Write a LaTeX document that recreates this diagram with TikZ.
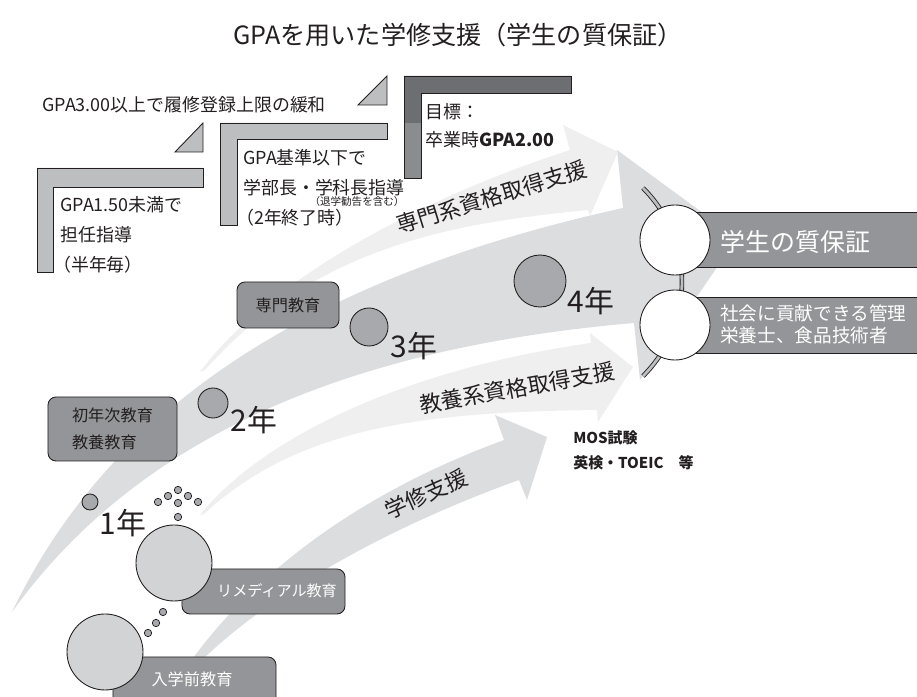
\documentclass[tikz,border=0pt]{standalone}
\usepackage{fontspec}
\setmainfont{Noto Sans CJK JP}
\definecolor{swoosh}{HTML}{DCDDDF}
\definecolor{swooshlight}{HTML}{EFEFF0}
\definecolor{boxgray}{HTML}{939598}
\definecolor{yeargray}{HTML}{A7A9AC}
\definecolor{bigcirclegray}{HTML}{D1D3D4}
\definecolor{stepgray}{HTML}{BCBEC0}
\definecolor{stepdark}{HTML}{6D6E71}
\definecolor{stepmid}{HTML}{8A8C8E}
\definecolor{inkdark}{HTML}{231F20}
\newcommand{\lparen}{\kern-0.4em（}
\tikzset{
  stepbar/.style={fill=stepgray, draw=inkdark, line width=0.5pt},
  steptext/.style={anchor=west, align=left, inner sep=0pt, text=inkdark, font=\fontsize{10.2}{16.5}\selectfont},
  darkbox/.style={rectangle, rounded corners=1.6mm, draw=inkdark, line width=0.5pt, fill=boxgray, inner sep=0pt},
  yearcircle/.style={circle, draw=inkdark, line width=0.5pt, fill=yeargray, inner sep=0pt},
  yearlabel/.style={inner sep=0pt, text=inkdark, font=\fontsize{17}{17}\selectfont},
  bigcircle/.style={circle, draw=inkdark, line width=0.5pt, fill=bigcirclegray, inner sep=0pt, minimum size=15.2mm},
  goalcircle/.style={circle, draw=inkdark, line width=0.5pt, fill=white, inner sep=0pt, minimum size=14mm},
  arrowlabel/.style={inner sep=0pt, text=inkdark, font=\fontsize{12.5}{12.5}\selectfont},
  smalldot/.style={fill=yeargray, draw=inkdark, line width=0.4pt},
}
\begin{document}
\begin{tikzpicture}[x=0.2mm, y=-0.2mm]
    \useasboundingbox (0,0) rectangle (917,697);

    % タイトル
    \node[inner sep=0pt, text=inkdark, font=\fontsize{14.3}{14.3}\selectfont] (title) at (458,35) {GPAを用いた学修支援（学生の質保証）};

    % 大きな矢印（4年間の流れ）
    \fill[swoosh] (12,612) .. controls (90,450) and (250,290) .. (623,208) -- (617,150) -- (737,238) -- (640,380) -- (634,323) .. controls (380,345) and (150,420) .. (12,612) -- cycle;

    % 専門系資格取得支援の矢印
    \fill[swooshlight] (200,372) .. controls (260,290) and (400,205) .. (570,150) -- (563,125) -- (618,152) -- (590,216) -- (588,210) .. controls (470,222) and (320,240) .. (205,370) -- cycle;

    % 教養系資格取得支援の矢印
    \fill[swooshlight] (200,515) .. controls (260,440) and (400,370) .. (591,343) -- (590,333) -- (633,367) -- (598,422) -- (597,410) .. controls (430,412) and (300,425) .. (204,514) -- cycle;

    % 学修支援の矢印
    \fill[swoosh] (186,668) .. controls (240,590) and (340,500) .. (504,440) -- (495,415) -- (547,437) -- (527,500) -- (519,480) .. controls (380,530) and (260,600) .. (194,668) -- cycle;

    % 矢印のラベル
    \node[arrowlabel, rotate=17] (senmonlabel) at (492,197) {専門系資格取得支援};
    \node[arrowlabel, rotate=10] (kyoyolabel) at (517,388) {教養系資格取得支援};
    \node[arrowlabel, rotate=24] (gakushulabel) at (426,494) {学修支援};

    % 階段（GPAによる指導）
    \draw[stepbar] (37,168) -- (203,168) -- (203,187) -- (53,187) -- (53,272) -- (37,272) -- cycle;
    \draw[stepbar] (175,152) -- (203,123) -- (203,152) -- cycle;
    \draw[stepbar] (220,123) -- (387,123) -- (387,139) -- (237,139) -- (237,225) -- (220,225) -- cycle;
    \draw[stepbar] (358,105) -- (387,76) -- (387,105) -- cycle;
    \fill[stepdark] (404,76) -- (571,76) -- (571,93) -- (421,93) -- (421,123) -- (404,123) -- cycle;
    \fill[stepmid] (404,123) rectangle (421,178);
    \draw[inkdark, line width=0.5pt] (404,76) -- (571,76) -- (571,93) -- (421,93) -- (421,178) -- (404,178) -- cycle;

    % 階段のテキスト
    \node[steptext] (kanwa) at (42,105) {GPA3.00以上で履修登録上限の緩和};
    \node[steptext, font=\fontsize{10.2}{17}\selectfont] (tannin) at (60,235) {GPA1.50未満で\\担任指導\\\lparen 半年毎）};
    \node[steptext, font=\fontsize{10.2}{17.2}\selectfont] (gakubu) at (243,188) {GPA基準以下で\\学部長・学科長指導\\\lparen 2年終了時）};
    \node[inner sep=0pt, text=inkdark, font=\fontsize{6}{6}\selectfont] (kankoku) at (357,201) {（退学勧告を含む）};
    \node[steptext, font=\fontsize{10.2}{16}\selectfont] (mokuhyo) at (425,126) {目標：\\卒業時\textbf{GPA2.00}};

    % 教育の箱
    \node[darkbox, minimum width=25.8mm, minimum height=12.8mm, align=left, text=inkdark, font=\fontsize{9.2}{15.3}\selectfont] (shonen) at (112.5,429) {初年次教育\\教養教育};
    \node[darkbox, minimum width=20.4mm, minimum height=9.2mm, text=inkdark, font=\fontsize{9.2}{9.2}\selectfont] (senmon) at (288,305) {専門教育};
    \node[darkbox, minimum width=32.6mm, minimum height=9mm] (remedial) at (263.5,591.5) {};
    \node[darkbox, minimum width=32.6mm, minimum height=9.6mm] (nyugaku) at (194.5,681) {};
    \node[bigcircle] (remcircle) at (174,563) {};
    \node[bigcircle] (nyucircle) at (105,652) {};
    \node[inner sep=0pt, text=white, font=\fontsize{8.6}{8.6}\selectfont] (remtext) at (277,591) {リメディアル教育};
    \node[inner sep=0pt, text=white, font=\fontsize{9.2}{9.2}\selectfont] (nyutext) at (192,679) {入学前教育};

    % 点
    \filldraw[smalldot] (148,633) circle[radius=3.7];
    \filldraw[smalldot] (156,623) circle[radius=3.7];
    \filldraw[smalldot] (163,612) circle[radius=3.7];
    \filldraw[smalldot] (158,502) circle[radius=3.7];
    \filldraw[smalldot] (168,496) circle[radius=3.7];
    \filldraw[smalldot] (178,490) circle[radius=3.7];
    \filldraw[smalldot] (188,496) circle[radius=3.7];
    \filldraw[smalldot] (198,502) circle[radius=3.7];
    \filldraw[smalldot] (178,503) circle[radius=3.7];
    \filldraw[smalldot] (178,517) circle[radius=3.7];

    % 学年
    \node[yearcircle, minimum size=3.2mm] (y1) at (90,502) {};
    \node[yearlabel] (y1label) at (123,523) {1年};
    \node[yearcircle, minimum size=6mm] (y2) at (213,403) {};
    \node[yearlabel] (y2label) at (254,420) {2年};
    \node[yearcircle, minimum size=7.6mm] (y3) at (369,327) {};
    \node[yearlabel] (y3label) at (414,346) {3年};
    \node[yearcircle, minimum size=10.4mm] (y4) at (540,281) {};
    \node[yearlabel] (y4label) at (591,301) {4年};

    % 資格
    \node[anchor=west, align=left, inner sep=0pt, text=inkdark, font=\bfseries\fontsize{8.5}{14.2}\selectfont] (mos) at (573,450) {MOS試験\\英検・TOEIC　等};

    % 学生の質保証
    \draw[inkdark, line width=0.5pt, double=stepgray, double distance=1.6pt] (643,188) arc[start angle=-45, end angle=45, radius=133];
    \node[darkbox, rounded corners=0pt, minimum width=51mm, minimum height=11mm] (qbox) at (802.5,239.5) {};
    \node[darkbox, rounded corners=0pt, minimum width=51mm, minimum height=11.2mm] (sbox) at (802.5,325) {};
    \node[goalcircle] (qcircle) at (675,240) {};
    \node[goalcircle] (scircle) at (675,325) {};
    \node[anchor=west, inner sep=0pt, text=white, font=\fontsize{14.2}{14.2}\selectfont] (qtext) at (720,242) {学生の質保証};
    \node[anchor=west, align=left, inner sep=0pt, text=white, font=\fontsize{10.6}{12.5}\selectfont] (stext) at (720,324) {社会に貢献できる管理\\栄養士、食品技術者};
\end{tikzpicture}
\end{document}
